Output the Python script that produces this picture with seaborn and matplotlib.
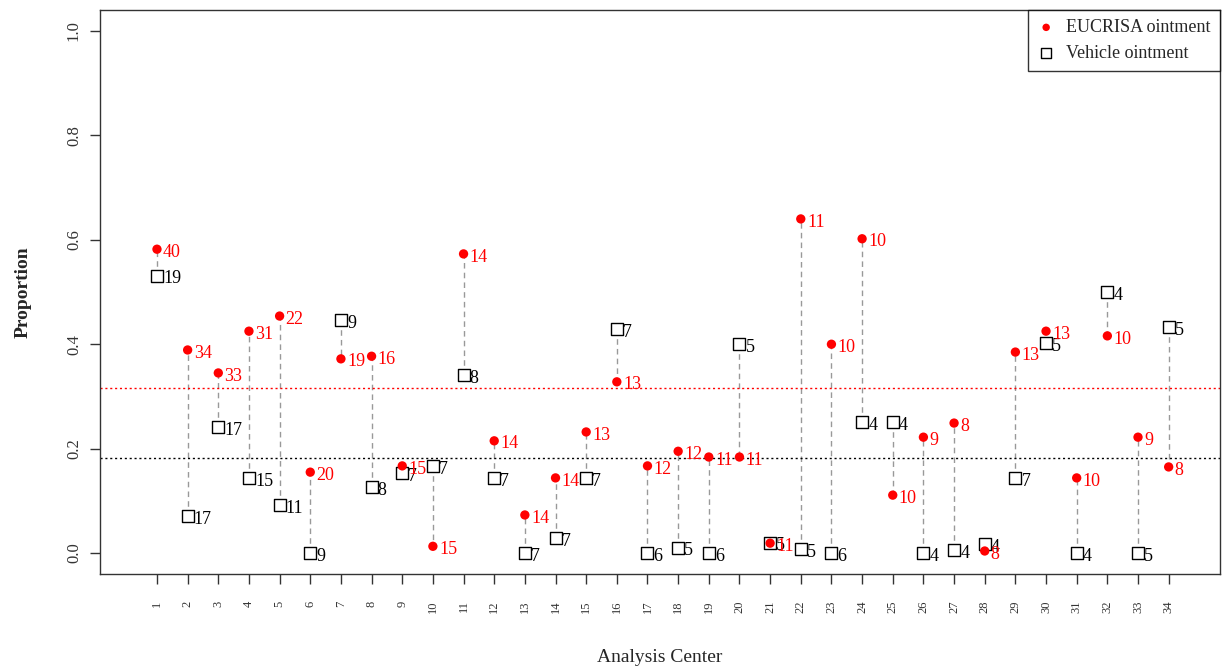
import matplotlib
matplotlib.use('Agg')
import matplotlib.pyplot as plt
import seaborn as sns
import pandas as pd
import numpy as np

# Data
centers = list(range(1, 35))
eucrisa_prop = [0.582, 0.389, 0.345, 0.425, 0.454, 0.155, 0.372, 0.377, 0.167, 0.013,
                0.573, 0.215, 0.073, 0.144, 0.232, 0.328, 0.167, 0.195, 0.184, 0.184,
                0.019, 0.640, 0.400, 0.602, 0.111, 0.222, 0.249, 0.004, 0.385, 0.425,
                0.144, 0.416, 0.222, 0.165]
eucrisa_n = [40, 34, 33, 31, 22, 20, 19, 16, 15, 15,
             14, 14, 14, 14, 13, 13, 12, 12, 11, 11,
             11, 11, 10, 10, 10, 9, 8, 8, 13, 13,
             10, 10, 9, 8]
vehicle_prop = [0.531, 0.071, 0.241, 0.144, 0.092, 0.0, 0.446, 0.126, 0.153, 0.167,
                0.341, 0.144, 0.0, 0.029, 0.144, 0.429, 0.0, 0.010, 0.0, 0.400,
                0.020, 0.008, 0.0, 0.251, 0.251, 0.0, 0.006, 0.017, 0.144, 0.402,
                0.0, 0.500, 0.0, 0.433]
vehicle_n = [19, 17, 17, 15, 11, 9, 9, 8, 7, 7,
             8, 7, 7, 7, 7, 7, 6, 5, 6, 5,
             5, 5, 6, 4, 4, 4, 4, 4, 7, 5,
             4, 4, 5, 5]
eucrisa_overall = 0.316
vehicle_overall = 0.182

sns.set_style('ticks')
plt.rcParams['font.family'] = ['Liberation Serif', 'DejaVu Serif']

fig = plt.figure(figsize=(12.22, 6.71), dpi=100)
ax = fig.add_axes([0.0818, 0.1446, 0.9162, 0.8404])

# dashed connectors between the two groups
ax.vlines(centers, vehicle_prop, eucrisa_prop, colors='#999999',
          linestyles=(0, (4, 3)), linewidth=1, zorder=1)

# overall reference lines
ax.axhline(eucrisa_overall, color='red', linestyle=(0, (1.5, 2)), linewidth=1, zorder=1)
ax.axhline(vehicle_overall, color='black', linestyle=(0, (1.5, 2)), linewidth=1, zorder=1)

# points drawn through seaborn, one call per group
sns.scatterplot(x=centers, y=eucrisa_prop, color='red', marker='o', s=45,
                edgecolor='none', ax=ax, zorder=3, label='EUCRISA ointment')
sns.scatterplot(x=centers, y=vehicle_prop, marker='s', s=75,
                facecolor='white', edgecolor='black', linewidth=1,
                ax=ax, zorder=2, label='Vehicle ointment')

for c, p, n in zip(centers, vehicle_prop, vehicle_n):
    ax.text(c + 0.2, p - 0.006, str(n), color='black', fontsize=13,
            ha='left', va='center', zorder=4)
for c, p, n in zip(centers, eucrisa_prop, eucrisa_n):
    ax.text(c + 0.2, p - 0.006, str(n), color='red', fontsize=13,
            ha='left', va='center', zorder=4)

ax.set_xlim(-0.86, 35.66)
ax.set_ylim(-0.04, 1.04)
ax.set_xticks(centers)
ax.set_xticklabels([str(c) for c in centers], rotation=90, fontsize=9, color='#333333')
ax.set_yticks([0.0, 0.2, 0.4, 0.6, 0.8, 1.0])
ax.set_yticklabels(['0.0', '0.2', '0.4', '0.6', '0.8', '1.0'], rotation=90,
                   va='center', fontsize=12, color='#333333')
ax.tick_params(axis='both', length=7, width=1, color='#333333')
ax.tick_params(axis='x', pad=12)
ax.tick_params(axis='y', pad=6)
for sp in ax.spines.values():
    sp.set_visible(True)
    sp.set_color('#333333')
    sp.set_linewidth(1)

ax.set_xlabel('Analysis Center', fontsize=14, labelpad=26)
ax.set_ylabel('Proportion', fontsize=14, fontweight='bold', labelpad=25)

leg = ax.legend(loc='upper right', frameon=True, fancybox=False, fontsize=13,
                borderaxespad=0, handlelength=1.0, handletextpad=0.6,
                borderpad=0.5, markerscale=0.8)
leg.get_frame().set_edgecolor('black')
leg.get_frame().set_linewidth(1)

fig.savefig('out.png', dpi=100)
